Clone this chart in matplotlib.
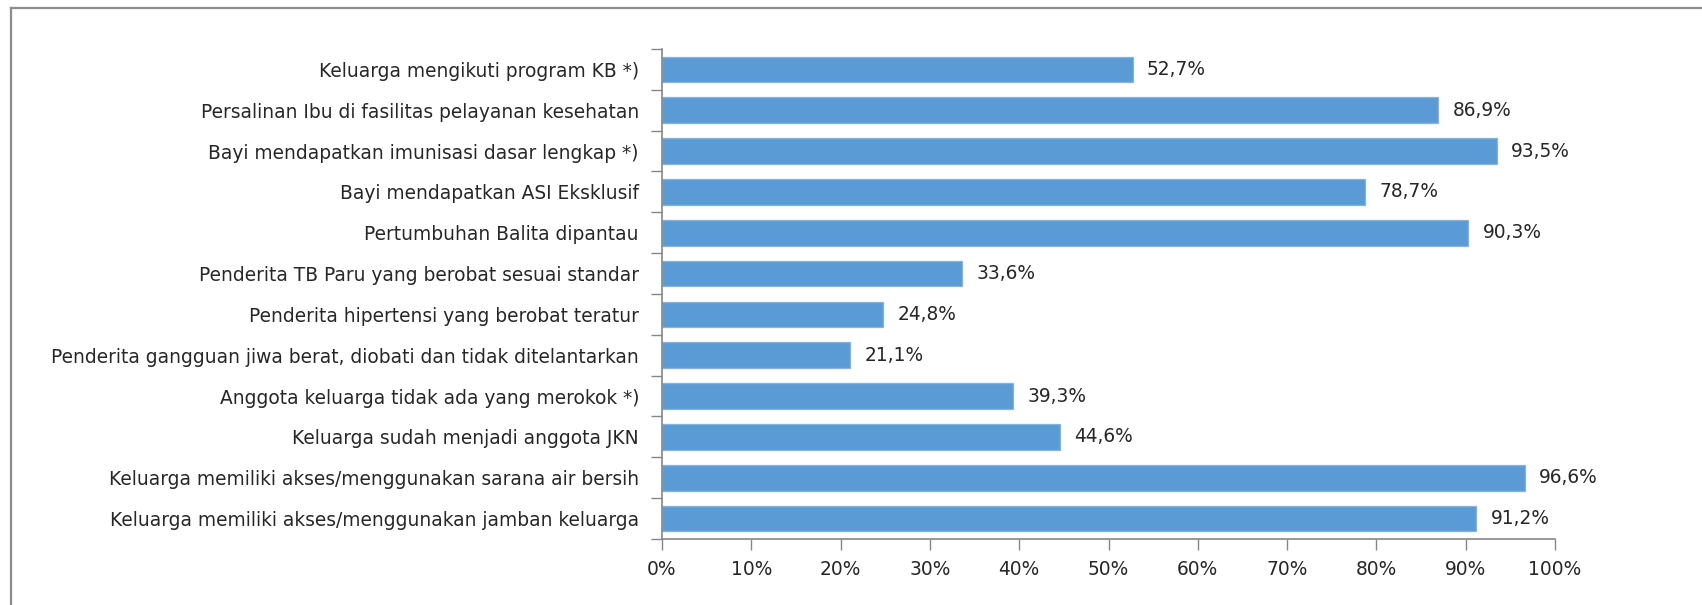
import matplotlib
matplotlib.use("Agg")
import matplotlib.pyplot as plt
from matplotlib.ticker import MultipleLocator, FuncFormatter
from matplotlib.lines import Line2D

categories = [
    "Keluarga mengikuti program KB *)",
    "Persalinan Ibu di fasilitas pelayanan kesehatan",
    "Bayi mendapatkan imunisasi dasar lengkap *)",
    "Bayi mendapatkan ASI Eksklusif",
    "Pertumbuhan Balita dipantau",
    "Penderita TB Paru yang berobat sesuai standar",
    "Penderita hipertensi yang berobat teratur",
    "Penderita gangguan jiwa berat, diobati dan tidak ditelantarkan",
    "Anggota keluarga tidak ada yang merokok *)",
    "Keluarga sudah menjadi anggota JKN",
    "Keluarga memiliki akses/menggunakan sarana air bersih",
    "Keluarga memiliki akses/menggunakan jamban keluarga",
]
values = [52.7, 86.9, 93.5, 78.7, 90.3, 33.6, 24.8, 21.1, 39.3, 44.6, 96.6, 91.2]

BAR = "#5B9BD5"
EDGE = "#86B3DE"
AXIS = "#868686"
TEXT = "#262626"
FONT = ["DejaVu Sans"]
FS = 13.4

W, H = 1702, 605
fig = plt.figure(figsize=(W / 100, H / 100), dpi=100)
fig.patch.set_facecolor("white")

# left and top outline of the chart frame
fig.add_artist(Line2D([11 / W, 11 / W], [0, 1 - 8 / H], transform=fig.transFigure,
                      color="#8C8C8C", lw=1.6))
fig.add_artist(Line2D([11 / W, 1], [1 - 8 / H, 1 - 8 / H], transform=fig.transFigure,
                      color="#8C8C8C", lw=1.6))

x0, x1 = 662, 1555
y_top, y_bot = 49, 539
ax = fig.add_axes([x0 / W, 1 - y_bot / H, (x1 - x0) / W, (y_bot - y_top) / H])

n = len(categories)
pos = list(range(n))
ax.barh(pos, values, height=0.63, color=BAR, edgecolor=EDGE, linewidth=0.9, zorder=2)

ax.set_xlim(0, 100)
ax.set_ylim(n - 0.5, -0.5)

for p, v in zip(pos, values):
    ax.text(v + 1.6, p, f"{v:.1f}%".replace(".", ","), va="center", ha="left",
            fontsize=FS, color=TEXT, family=FONT)

ax.xaxis.set_major_locator(MultipleLocator(10))
ax.xaxis.set_major_formatter(FuncFormatter(lambda x, _: f"{x:.0f}%"))
ax.set_yticks([p - 0.5 for p in pos] + [n - 0.5], minor=False)
ax.set_yticklabels([])
ax.set_yticks(pos, minor=True)
ax.set_yticklabels(categories, minor=True)

ax.tick_params(axis="y", which="major", length=8, width=1, color=AXIS, direction="out")
ax.tick_params(axis="y", which="minor", length=0, pad=23 * 0.72)
ax.tick_params(axis="x", length=8, width=1, color=AXIS, direction="out", pad=10 * 0.72)
for lab in ax.get_xticklabels() + ax.get_yticklabels(minor=True):
    lab.set_fontsize(FS)
    lab.set_color(TEXT)
    lab.set_family(FONT)

for s in ("top", "right"):
    ax.spines[s].set_visible(False)
for s in ("left", "bottom"):
    ax.spines[s].set_color(AXIS)
    ax.spines[s].set_linewidth(1.2)

fig.savefig("out.png", dpi=100, facecolor="white")
